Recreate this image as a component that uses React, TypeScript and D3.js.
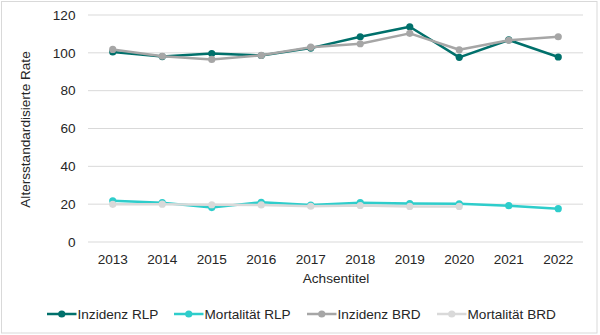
import React from "react";
import * as d3 from "d3";

const years = ["2013", "2014", "2015", "2016", "2017", "2018", "2019", "2020", "2021", "2022"];
const inzidenzRLP = [100.5, 98, 99.6, 98.6, 102.5, 108.5, 113.8, 97.6, 106.8, 97.8];
const mortalitaetRLP = [21.8, 20.8, 18.2, 21, 19.5, 20.8, 20.3, 20.2, 19.2, 17.6];
const inzidenzBRD = [101.8, 98.2, 96.5, 98.7, 103, 104.8, 110.3, 101.6, 106.6, 108.5];
const mortalitaetBRD = [19.9, 20, 19.7, 19.6, 18.9, 19.3, 18.8, 18.8, null, null];
const yTicks = [0, 20, 40, 60, 80, 100, 120];

const seriesNames = ["Inzidenz RLP", "Mortalität RLP", "Inzidenz BRD", "Mortalität BRD"];
const seriesData = [inzidenzRLP, mortalitaetRLP, inzidenzBRD, mortalitaetBRD];
const seriesColors = ["#00706B", "#2ECDCB", "#A6A6A6", "#D9D9D9"];

const W = 600, H = 335;
const plot = { left: 88, right: 583, top: 15, bottom: 242 };
const font = "'Liberation Sans', Arial, sans-serif";
const fs = 13.6;

export default function App() {
  const x = d3.scaleBand().domain(years).range([plot.left, plot.right]);
  const y = d3.scaleLinear().domain([0, 120]).range([plot.bottom, plot.top]);
  const cx = (yr: string) => (x(yr) ?? 0) + x.bandwidth() / 2;

  const legendX = [47, 174, 307, 437];
  const legendY = 314;

  return (
    <div style={{ position: "absolute", left: 0, top: 0 }}>
      <svg width={W} height={H} style={{ display: "block" }}>
        <rect x={0} y={0} width={W} height={H} fill="#fff" />
        <rect x={1.5} y={1.5} width={595.5} height={331.5} fill="none" stroke="#D9D9D9" strokeWidth={1} />
        {yTicks.map((t) => (
          <g key={t}>
            <line x1={plot.left} x2={plot.right} y1={y(t)} y2={y(t)} stroke="#D9D9D9" strokeWidth={1} />
            <text x={75.5} y={y(t)} dy="0.35em" textAnchor="end" fontFamily={font} fontSize={fs} fill="#262626">
              {t}
            </text>
          </g>
        ))}
        {years.map((yr) => (
          <text key={yr} x={cx(yr)} y={259} dy="0.35em" textAnchor="middle" fontFamily={font} fontSize={fs} fill="#262626">
            {yr}
          </text>
        ))}
        <text x={336} y={278} dy="0.35em" textAnchor="middle" fontFamily={font} fontSize={fs} fill="#262626">
          Achsentitel
        </text>
        <text
          transform={`translate(25,129.5) rotate(-90)`}
          dy="0.35em"
          textAnchor="middle"
          fontFamily={font}
          fontSize={fs}
          fill="#262626"
        >
          Altersstandardisierte Rate
        </text>
        {seriesData.map((vals, i) => {
          const pts = years
            .map((yr, j) => ({ yr, v: vals[j] }))
            .filter((p) => p.v !== null && p.v !== undefined) as { yr: string; v: number }[];
          const line = d3
            .line<{ yr: string; v: number }>()
            .x((p) => cx(p.yr))
            .y((p) => y(p.v));
          return (
            <g key={i}>
              <path d={line(pts) ?? ""} fill="none" stroke={seriesColors[i]} strokeWidth={2.5} strokeLinejoin="round" />
              {pts.map((p) => (
                <circle key={p.yr} cx={cx(p.yr)} cy={y(p.v)} r={3.6} fill={seriesColors[i]} />
              ))}
            </g>
          );
        })}
        {seriesNames.map((n, i) => (
          <g key={n}>
            <line x1={legendX[i]} x2={legendX[i] + 29.5} y1={legendY} y2={legendY} stroke={seriesColors[i]} strokeWidth={2.5} />
            <circle cx={legendX[i] + 14.75} cy={legendY} r={3.6} fill={seriesColors[i]} />
            <text x={legendX[i] + 30.5} y={legendY} dy="0.35em" fontFamily={font} fontSize={fs} fill="#262626">
              {n}
            </text>
          </g>
        ))}
      </svg>
    </div>
  );
}
